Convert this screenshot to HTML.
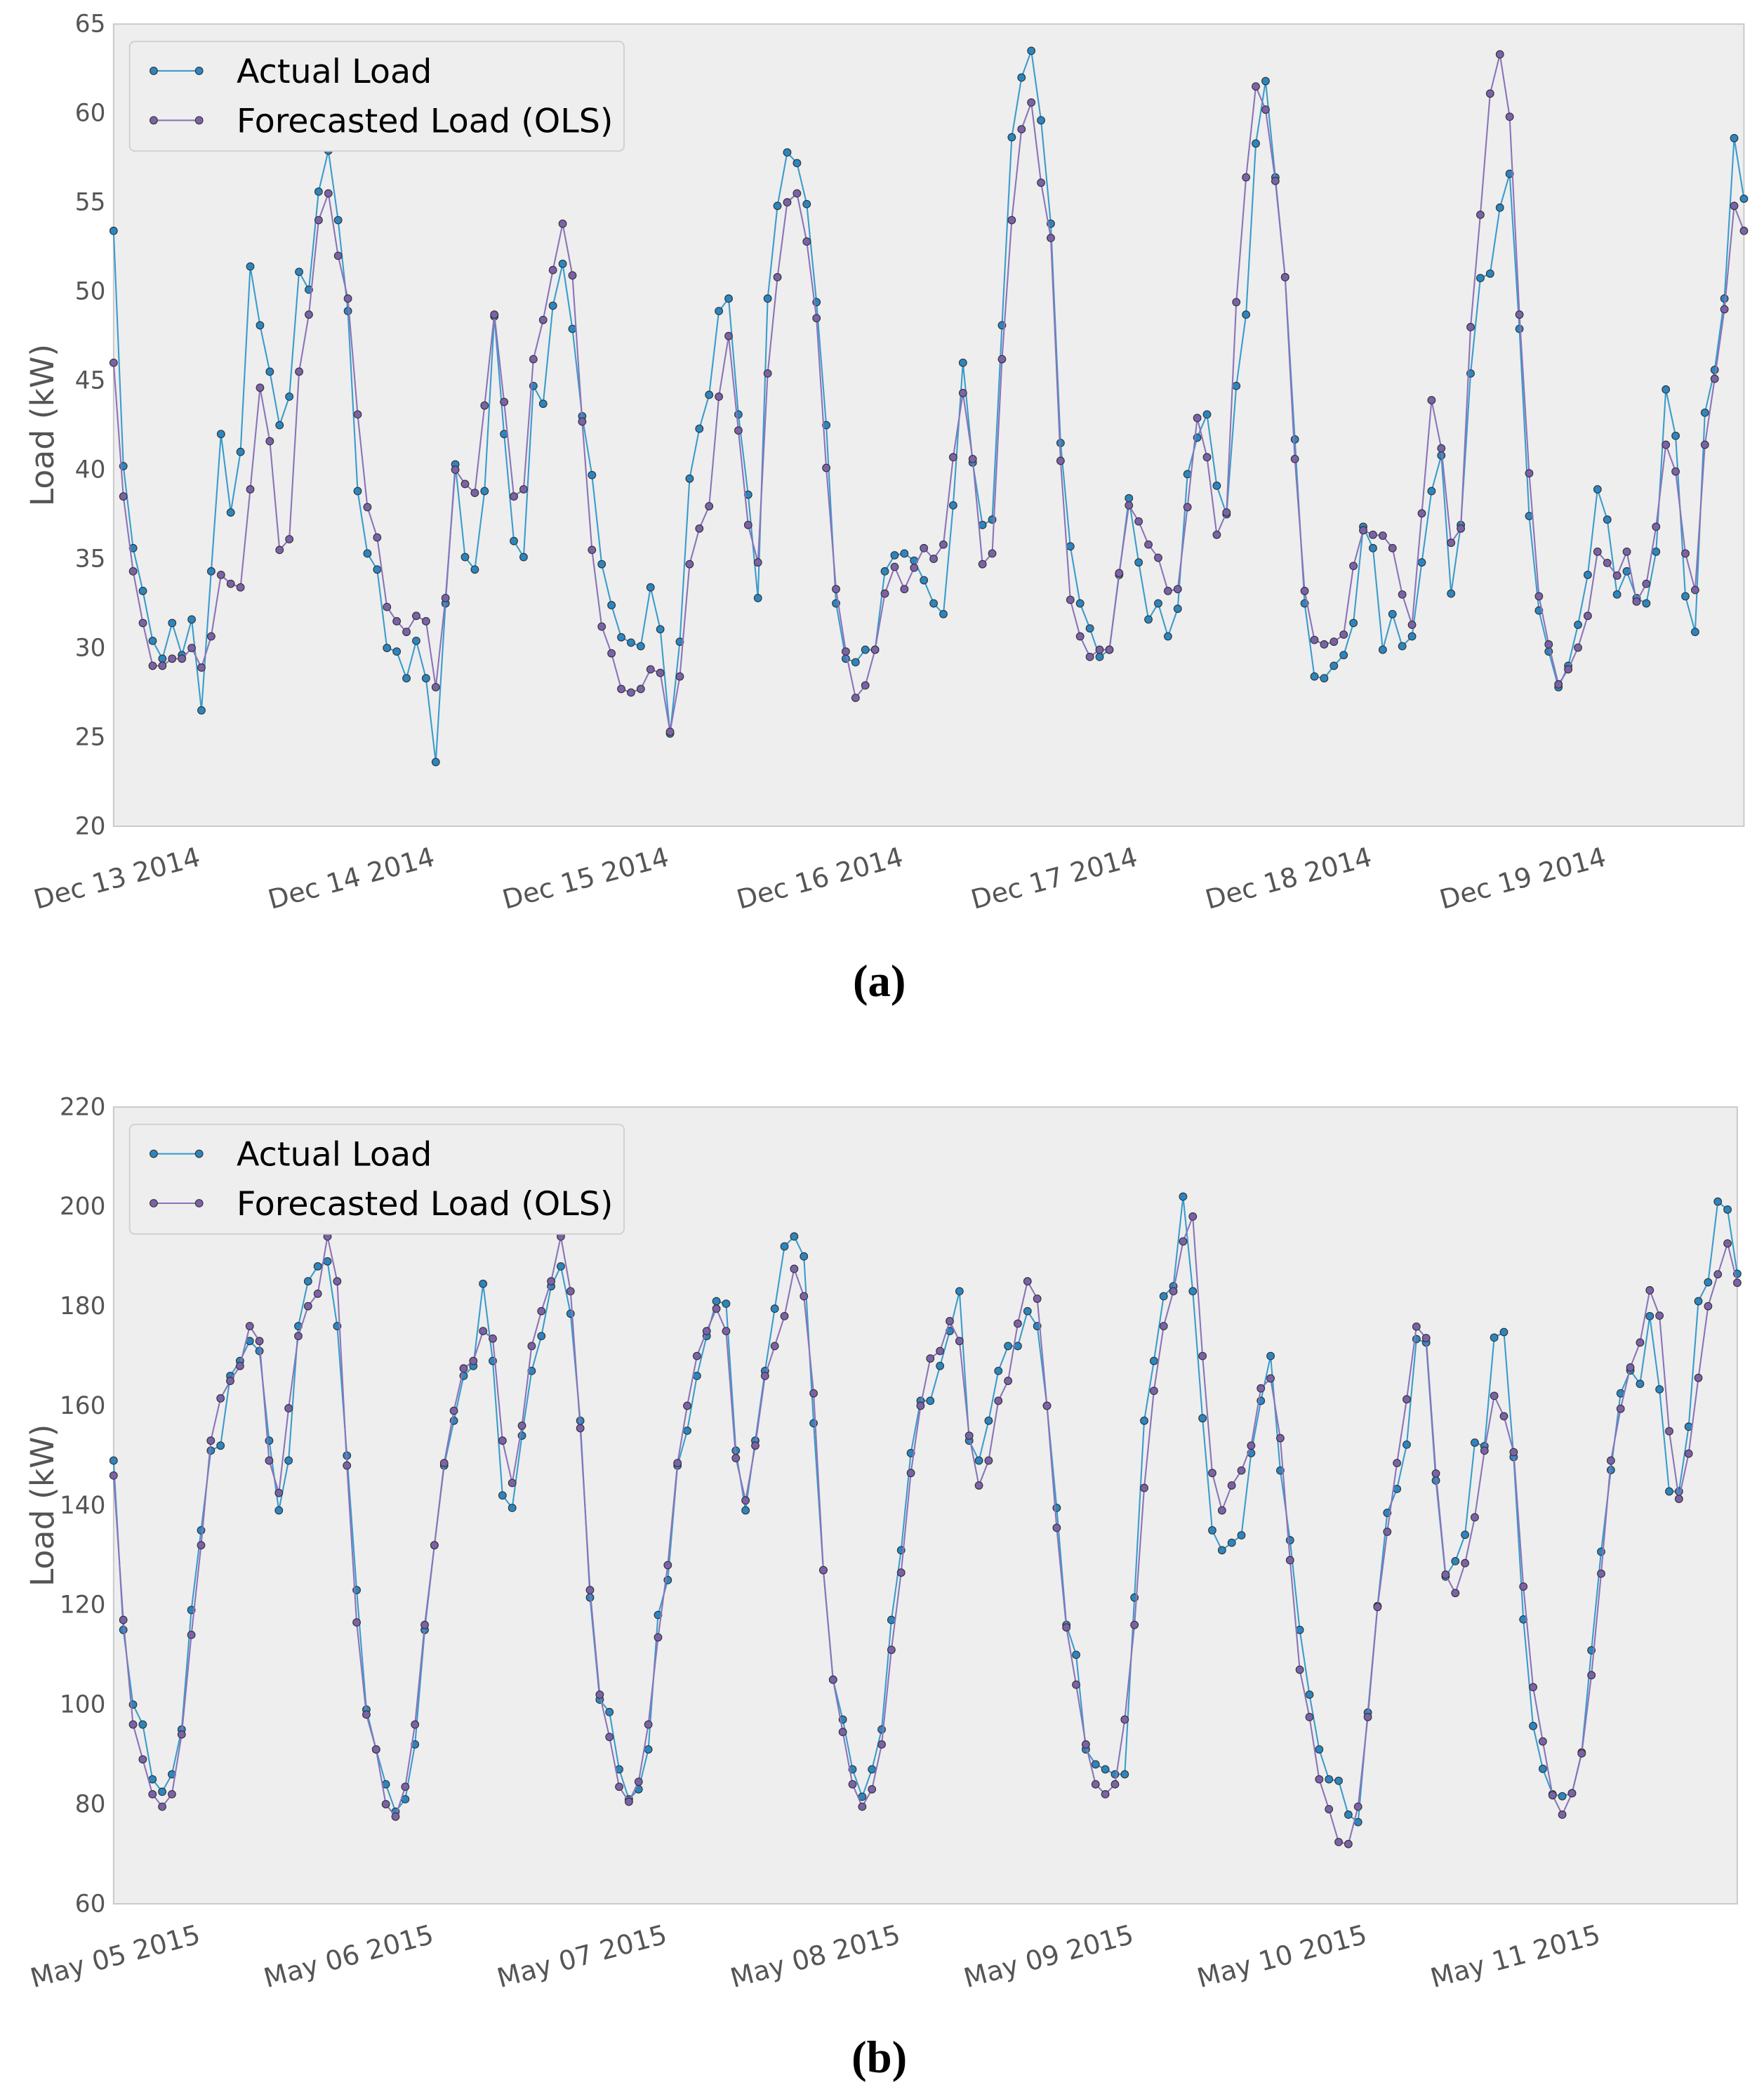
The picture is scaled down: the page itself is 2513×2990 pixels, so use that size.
<!DOCTYPE html>
<html><head><meta charset="utf-8"><style>
html,body{margin:0;padding:0;background:#fff;}
svg{display:block;font-family:"DejaVu Sans","Liberation Sans",sans-serif;}
</style></head><body>
<svg id="root" width="2513" height="2990" viewBox="0 0 1320 1570" preserveAspectRatio="none" xmlns="http://www.w3.org/2000/svg"></svg>
<script>
// ---- Chart (a) data ----
const aDays = ["Dec 13 2014","Dec 14 2014","Dec 15 2014","Dec 16 2014","Dec 17 2014","Dec 18 2014","Dec 19 2014"];
const aTicks = [20,25,30,35,40,45,50,55,60,65];
const aActual = [53.4,40.2,35.6,33.2,30.4,29.4,31.4,29.6,31.6,26.5,34.3,42,37.6,41,51.4,48.1,45.5,42.5,44.1,51.1,50.1,55.6,57.9,54,48.9,38.8,35.3,34.4,30,29.8,28.3,30.4,28.3,23.6,32.5,40.3,
35.1,34.4,38.8,48.6,42,36,35.1,44.7,43.7,49.2,51.55,47.9,43,39.7,34.7,32.4,30.6,30.3,30.1,33.4,31.05,25.2,30.35,39.5,42.3,44.2,48.9,49.6,43.1,38.6,32.8,49.6,54.8,57.8,57.2,
54.9,49.4,42.5,32.5,29.4,29.2,29.9,29.9,34.3,35.2,35.3,34.9,33.8,32.5,31.9,38,46,40.4,36.9,37.2,48.1,58.65,62,63.5,59.6,53.8,41.5,35.7,
32.5,31.1,29.5,29.9,34.1,38.4,34.8,31.6,32.5,30.65,32.2,39.75,41.8,43.1,39.1,37.5,44.7,48.7,58.3,61.8,56.4,50.8,41.7,32.5,28.4,28.3,29,29.6,31.4,
36.8,35.6,29.9,31.9,30.1,30.65,34.8,38.8,40.8,33.05,36.9,45.4,50.75,51,54.7,56.6,47.9,37.4,32.1,29.8,27.8,29,31.3,34.1,38.9,37.2,33,34.3,32.8,32.5,35.4,44.5,41.9,32.9,30.9,43.2,45.6,49.6,58.6,55.2];
const aForecast = [46,38.5,34.3,31.4,29,29,29.4,29.4,30,28.9,30.65,34.1,33.6,33.4,38.9,44.6,41.6,35.5,36.1,45.5,48.7,54,55.5,52,49.6,43.1,37.9,36.2,32.3,31.5,30.9,31.8,31.5,27.8,32.8,40,
39.2,38.7,43.6,48.7,43.8,38.5,38.9,46.2,48.4,51.2,53.8,50.9,42.7,35.5,31.2,29.7,27.7,27.5,27.7,28.8,28.6,25.3,28.4,34.7,36.7,37.95,44.1,47.5,42.2,36.9,34.8,45.4,50.8,55,55.5,
52.8,48.5,40.1,33.3,29.8,27.2,27.9,29.9,33.05,34.55,33.3,34.5,35.6,35,35.8,40.7,44.3,40.6,34.7,35.3,46.2,54,59.1,60.6,56.1,53,40.5,32.7,
30.65,29.5,29.9,29.9,34.2,38,37.1,35.8,35.06,33.2,33.3,37.9,42.9,40.7,36.35,37.6,49.4,56.4,61.5,60.2,56.2,50.8,40.6,33.2,30.45,30.2,30.35,30.75,34.6,
36.6,36.35,36.3,35.6,33,31.3,37.55,43.9,41.2,35.9,36.7,48,54.3,61.1,63.3,59.8,48.7,39.8,32.9,30.2,27.96,28.8,30.02,31.8,35.4,34.77,34.06,35.4,32.6,33.6,36.8,41.4,39.9,35.3,33.25,41.4,45.1,49,54.8,53.4];
// ---- Chart (b) data ----
const bDays = ["May 05 2015","May 06 2015","May 07 2015","May 08 2015","May 09 2015","May 10 2015","May 11 2015"];
const bTicks = [60,80,100,120,140,160,180,200,220];
const bActual = [149,115,100,96,85,82.5,86,95,119,135,151,152,166,169,173,171,153,139,149,176,185,188,189,176,
150,123,99,91,84,78.5,81,92,115,132,148,157,166,168,184.5,169,142,139.5,154,167,174,184,188,178.5,
157,121.5,101,98.5,87,81,83,91,118,125,148,155,166,174,181,180.5,151,139,153,167,179.5,192,194,190,
156.5,127,105,97,87,81.5,87,95,117,131,150.5,161,161,168,175,183,153,149,157,167,172,172,179,176,
160,139.5,116,110,91,88,87,86,86,121.5,157,169,182,184,202,183,157.5,135,131,132.5,134,150.5,161,170,
147,133,115,102,91,85,84.7,77.9,76.4,98.4,119.8,138.5,143.3,152.2,173.4,172.7,145,125.7,128.8,134.1,152.6,151.9,173.7,174.8,
149.7,117.1,95.7,87.1,82,81.6,82.2,90.4,110.9,130.7,147.1,162.5,167.1,164.4,178,163.3,142.8,142.8,155.8,181,184.8,201,199.4,186.5];
const bForecast = [146,117,96,89,82,79.5,82,94,114,132,153,161.5,165,168,176,173,149,142.5,159.5,174,180,182.5,194,185,
148,116.5,98,91,80,77.5,83.5,96,116,132,148.5,159,167.5,169,175,173.5,153,144.5,156,172,179,185,194,183,
155.5,123,102,93.5,83.5,80.5,84.5,96,113.5,128,148.5,160,170,175,179.5,175,149.5,141,152,166,172,178,187.5,182,
162.5,127,105,94.5,84,79.5,83,92,111,126.5,146.5,160,169.5,171,177,173,154,144,149,161,165,176.5,185,181.5,
160,135.5,115.5,104,92,84,82,84,97,116,143.5,163,176,183,193,198,170,146.5,139,144,147,152,163.5,165.5,
153.5,129,107,97.5,85,79,72.4,72,79.5,97.5,119.6,134.7,148.5,161.3,175.9,173.6,146.4,126.1,122.4,128.4,137.6,151,162,157.9,
150.7,123.7,103.5,92.6,81.8,77.9,82.2,90.2,105.9,126.3,149,159.4,167.7,172.7,183.2,178.1,154.9,141.3,150.4,165.6,180,186.4,192.6,184.7];

const NS = "http://www.w3.org/2000/svg";
const root = document.getElementById('root');
function mk(tag, attrs, parent){ const e=document.createElementNS(NS,tag); for(const k in attrs) e.setAttribute(k,attrs[k]); (parent||root).appendChild(e); return e; }

function chart(id, L, T, R, B, ticks, days, actual, forecast, caption, capY){
  const g = mk('g',{});
  
  
  const ymin = ticks[0], ymax = ticks[ticks.length-1];
  const n = Math.max(actual.length, forecast.length);
  const step = (R-L)/(n-1);
  const x = h => L + h*step;
  const y = v => B - (v-ymin)/(ymax-ymin)*(B-T);
  const bg = mk('rect',{x:L,y:T,width:R-L,height:B-T,fill:'#eeeeee',stroke:'#c8c8c8','stroke-width':1},g);
  
  
  ticks.forEach(t=>{
    const tx = mk('text',{x:L-6,y:y(t)+6,'text-anchor':'end','font-size':18,fill:'#555'},g);
    tx.textContent = t;
    
    
  });
  days.forEach((d,i)=>{
    const px = x(i*24);
    const ax = px+66, ay = B+29;
    const tx = mk('text',{x:ax,y:ay,'text-anchor':'end','font-size':20,fill:'#555',transform:`rotate(-15 ${ax} ${ay})`},g);
    tx.textContent = d;
    
    
  });
  const yl = mk('text',{x:L-45,y:(T+B)/2,'text-anchor':'middle','font-size':24,fill:'#555',transform:`rotate(-90 ${L-45} ${(T+B)/2})`},g);
  yl.textContent = 'Load (kW)';
  
  
  const clip = mk('clipPath',{id:id+'-clip'},g);
  mk('rect',{x:L-4,y:T,width:R-L+8,height:B-T},clip);
  const series = [[actual,'#3a9ccc','#2b86c0','actual-load'],[forecast,'#8a74b8','#7b62a8','forecasted-load']];
  series.forEach(([arr,lc,mc,nm])=>{
    const sg = mk('g',{'clip-path':`url(#${id}-clip)`},g);
    
    
    const pts = arr.map((v,i)=>x(i).toFixed(2)+','+y(v).toFixed(2)).join(' ');
    const pl = mk('polyline',{points:pts,fill:'none',stroke:lc,'stroke-width':1.1},sg);
    
    
    arr.forEach((v,i)=>{
      const c = mk('circle',{cx:x(i),cy:y(v),r:2.8,fill:mc,stroke:'#333','stroke-width':0.6},sg);
      
      
    });
  });
  const lg = mk('g',{},g);
  
  
  mk('rect',{x:L+12,y:T+13,width:370,height:82,rx:4,fill:'#eeeeee',stroke:'#d0d0d0','stroke-width':1},lg);
  [['Actual Load','#3a9ccc','#2b86c0'],['Forecasted Load (OLS)','#8a74b8','#7b62a8']].forEach(([t,lc,mc],k)=>{
    const yy = T+35+k*37;
    mk('line',{x1:L+30,y1:yy,x2:L+64,y2:yy,stroke:lc,'stroke-width':1.1},lg);
    mk('circle',{cx:L+30,cy:yy,r:2.8,fill:mc,stroke:'#333','stroke-width':0.6},lg);
    mk('circle',{cx:L+64,cy:yy,r:2.8,fill:mc,stroke:'#333','stroke-width':0.6},lg);
    const tx = mk('text',{x:L+92,y:yy+9,'font-size':25,fill:'#000'},lg);
    tx.textContent = t;
    
    
  });
  const cp = mk('text',{x:658,y:capY,'text-anchor':'middle','font-size':34,'font-weight':'bold','font-family':'"Liberation Serif",serif',fill:'#000'});
  cp.textContent = caption;
  
  
}
chart('chart-a',85,18,1305,618,aTicks,aDays,aActual,aForecast,'(a)',745);
chart('chart-b',85,828,1300,1424,bTicks,bDays,bActual,bForecast,'(b)',1550);
</script>
</body></html>
